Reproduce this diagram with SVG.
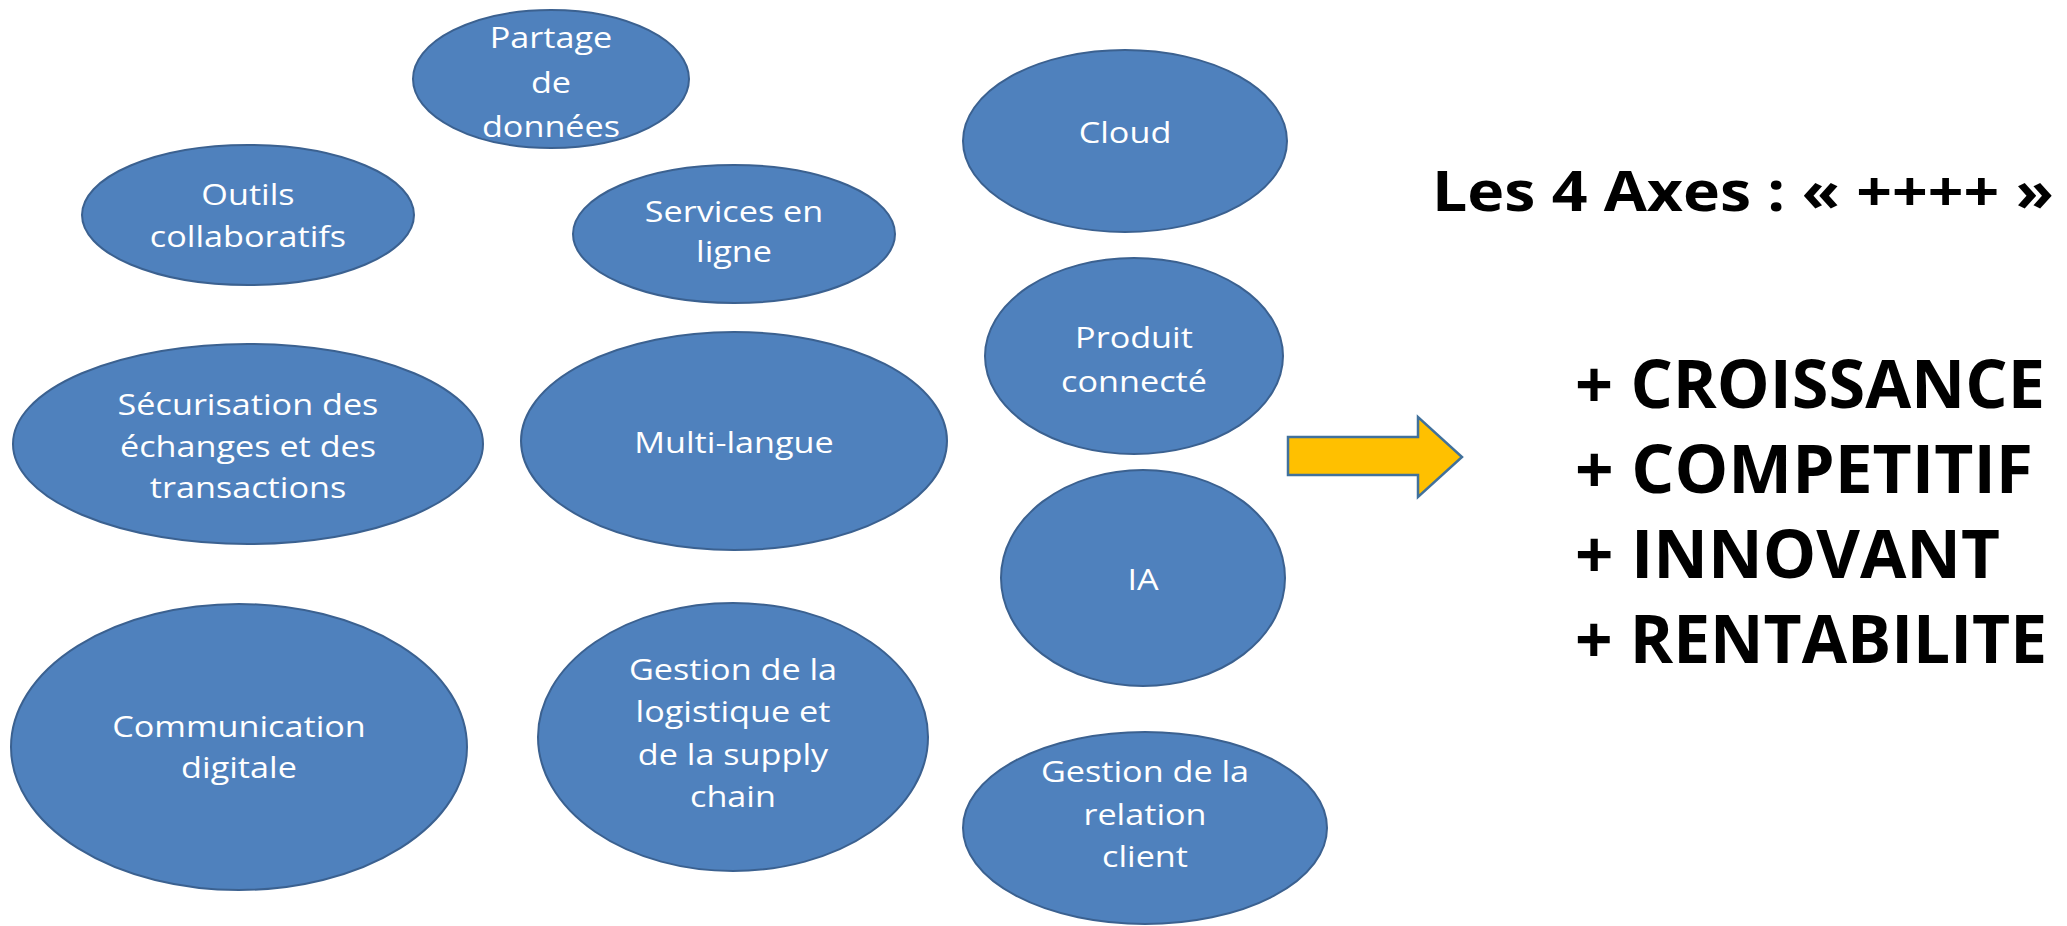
<svg xmlns="http://www.w3.org/2000/svg" width="2067" height="926" viewBox="0 0 2067 926">
<style>
.node ellipse{fill:#4f81bd;stroke:#3b6190;stroke-width:2}
.node text{font-family:"Open Sans","Noto Sans",sans-serif;font-size:30px;fill:#ffffff;text-anchor:middle}
.big{font-family:"Open Sans","Noto Sans",sans-serif;font-weight:bold;fill:#000000}
.arrow{fill:#ffc000;stroke:#41719c;stroke-width:2.5;stroke-linejoin:miter}
</style>
<rect width="2067" height="926" fill="#ffffff"/>
<g id="partage" class="node"><ellipse cx="551" cy="79" rx="138" ry="69"/><g transform="translate(551 0) scale(1.14 1)"><text x="0" y="48">Partage</text><text x="0" y="93">de</text><text x="0" y="137">données</text></g></g>
<g id="outils" class="node"><ellipse cx="248" cy="215" rx="166" ry="70"/><g transform="translate(248 0) scale(1.14 1)"><text x="0" y="205">Outils</text><text x="0" y="247">collaboratifs</text></g></g>
<g id="services" class="node"><ellipse cx="734" cy="234" rx="161" ry="69"/><g transform="translate(734 0) scale(1.14 1)"><text x="0" y="222">Services en</text><text x="0" y="262">ligne</text></g></g>
<g id="cloud" class="node"><ellipse cx="1125" cy="141" rx="162" ry="91"/><g transform="translate(1125 0) scale(1.14 1)"><text x="0" y="143">Cloud</text></g></g>
<g id="securisation" class="node"><ellipse cx="248" cy="444" rx="235" ry="100"/><g transform="translate(248 0) scale(1.14 1)"><text x="0" y="415">Sécurisation des</text><text x="0" y="457">échanges et des</text><text x="0" y="498">transactions</text></g></g>
<g id="multilangue" class="node"><ellipse cx="734" cy="441" rx="213" ry="109"/><g transform="translate(734 0) scale(1.14 1)"><text x="0" y="453">Multi-langue</text></g></g>
<g id="produit" class="node"><ellipse cx="1134" cy="356" rx="149" ry="98"/><g transform="translate(1134 0) scale(1.14 1)"><text x="0" y="348">Produit</text><text x="0" y="392">connecté</text></g></g>
<g id="ia" class="node"><ellipse cx="1143" cy="578" rx="142" ry="108"/><g transform="translate(1143 0) scale(1.14 1)"><text x="0" y="590">IA</text></g></g>
<g id="communication" class="node"><ellipse cx="239" cy="747" rx="228" ry="143"/><g transform="translate(239 0) scale(1.14 1)"><text x="0" y="737">Communication</text><text x="0" y="778">digitale</text></g></g>
<g id="logistique" class="node"><ellipse cx="733" cy="737" rx="195" ry="134"/><g transform="translate(733 0) scale(1.14 1)"><text x="0" y="680">Gestion de la</text><text x="0" y="722">logistique et</text><text x="0" y="765">de la supply</text><text x="0" y="807">chain</text></g></g>
<g id="relation" class="node"><ellipse cx="1145" cy="828" rx="182" ry="96"/><g transform="translate(1145 0) scale(1.14 1)"><text x="0" y="782">Gestion de la</text><text x="0" y="825">relation</text><text x="0" y="867">client</text></g></g>
<g id="connectors"><polygon class="arrow" points="1288,437 1418,437 1418,417 1462,457 1418,497 1418,475 1288,475"/></g>
<g id="axes">
<text class="big" x="1432" y="211" font-size="56" textLength="622" lengthAdjust="spacingAndGlyphs">Les 4 Axes : « ++++ »</text>
<text class="big" x="1575" y="408" font-size="66" textLength="470" lengthAdjust="spacingAndGlyphs">+ CROISSANCE</text>
<text class="big" x="1575" y="493" font-size="66" textLength="458" lengthAdjust="spacingAndGlyphs">+ COMPETITIF</text>
<text class="big" x="1575" y="578" font-size="66" textLength="425" lengthAdjust="spacingAndGlyphs">+ INNOVANT</text>
<text class="big" x="1575" y="663" font-size="66" textLength="472" lengthAdjust="spacingAndGlyphs">+ RENTABILITE</text>
</g>
</svg>
